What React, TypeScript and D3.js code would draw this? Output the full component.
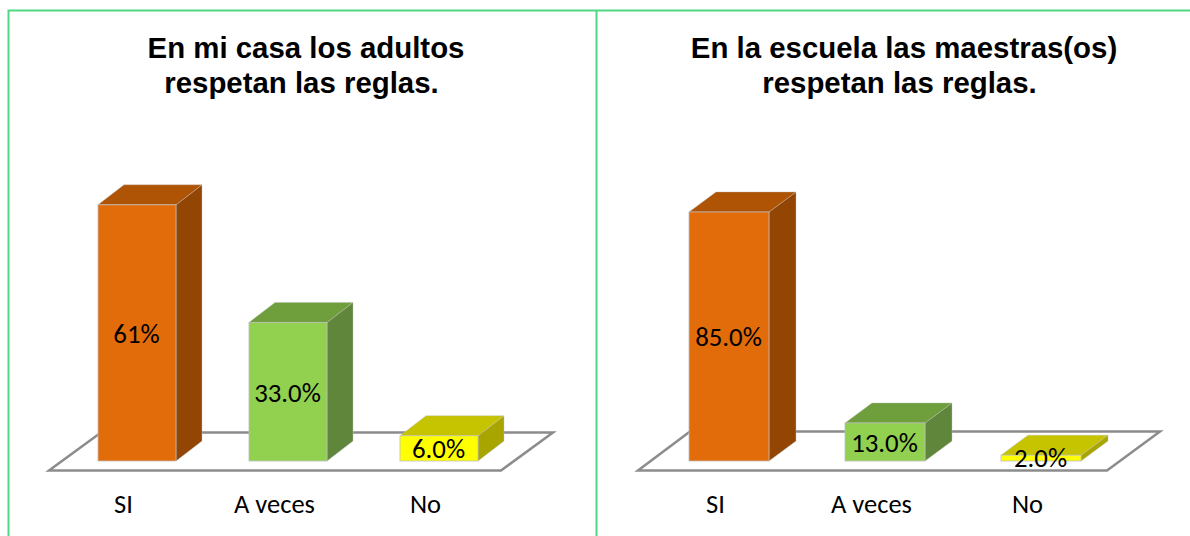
import React from "react";
import * as d3 from "d3";

const categories = ["SI", "A veces", "No"];
const valuesLeft = [61, 33, 6];
const valuesRight = [85, 13, 2];
const labelsLeft = ["61%", "33.0%", "6.0%"];
const labelsRight = ["85.0%", "13.0%", "2.0%"];
const titleLeft = ["En mi casa los adultos", "respetan las reglas."];
const titleRight = ["En la escuela las maestras(os)", "respetan las reglas."];
const faceFront = ["#E36C0A", "#92D050", "#FFFF00"];
const faceTop = ["#AF5305", "#6F9E3C", "#C6C300"];
const faceSide = ["#934504", "#5F863A", "#A8A500"];

const WIDTH = 1190;
const HEIGHT = 536;
const BASE_Y = 461;
const DY = 20;
const LABEL_FONT = "Carlito, Calibri, 'Open Sans', sans-serif";

type PanelProps = {
  values: number[];
  labels: string[];
  title: string[];
  titleX: number;
  barRange: [number, number];
  barWidth: number;
  depth: number;
  pxPerUnit: number;
  floor: { left: number; right: number; backLeft: number; backRight: number; backY: number };
  labelOffset: number;
  labelY: number[];
};

function Panel({ values, labels, title, titleX, barRange, barWidth, depth, pxPerUnit, floor, labelOffset, labelY }: PanelProps) {
  const x = d3.scalePoint<string>().domain(categories).range(barRange);
  const y = d3.scaleLinear().domain([0, 100]).range([BASE_Y, BASE_Y - 100 * pxPerUnit]);
  const line = d3.line();
  const floorPath = line([
    [floor.left, 470.5],
    [floor.right, 470.5],
    [floor.backRight, floor.backY],
    [floor.backLeft, floor.backY],
  ]) + "Z";
  return (
    <g>
      {title.map((t, i) => (
        <text key={i} x={titleX - (i === 1 ? 4.5 : 0)} y={58 + i * 35} textAnchor="middle" fontFamily="'Liberation Sans', Arial, sans-serif" fontWeight={700} fontSize={29.4} fill="#000">{t}</text>
      ))}
      <path d={floorPath} fill="#fff" stroke="#8C8C8C" strokeWidth={2.5} strokeLinejoin="miter" />
      {categories.map((c, i) => {
        const cx = x(c) as number;
        const l = cx - barWidth / 2;
        const r = cx + barWidth / 2;
        const top = y(values[i]);
        const topFace = line([[l, top], [r, top], [r + depth, top - DY], [l + depth, top - DY]]) + "Z";
        const sideFace = line([[r, top], [r + depth, top - DY], [r + depth, BASE_Y - DY], [r, BASE_Y]]) + "Z";
        return (
          <g key={c}>
            <path d={sideFace} fill={faceSide[i]} stroke="#BDBDBD" strokeOpacity={0.5} strokeWidth={0.8} />
            <path d={topFace} fill={faceTop[i]} stroke="#BDBDBD" strokeOpacity={0.5} strokeWidth={0.8} />
            <rect x={l} y={top} width={barWidth} height={BASE_Y - top} fill={faceFront[i]} stroke="#BDBDBD" strokeWidth={0.8} />
          </g>
        );
      })}
      {categories.map((c, i) => {
        const cx = x(c) as number;
        return (
          <g key={c}>
            <text x={cx - 0.5} y={labelY[i]} textAnchor="middle" dominantBaseline="central" fontFamily={LABEL_FONT} fontSize={26.8} fill="#000">{labels[i]}</text>
            <text x={cx - labelOffset} y={513} textAnchor="middle" fontFamily={LABEL_FONT} fontSize={26.5} fill="#000">{c}</text>
          </g>
        );
      })}
    </g>
  );
}

export default function App() {
  return (
    <svg width={WIDTH} height={HEIGHT} viewBox={`0 0 ${WIDTH} ${HEIGHT}`} style={{ position: "absolute", left: 0, top: 0, background: "#fff" }}>
      <path d={`M1190 10.5H8.5V536M596.5 10.5V536`} fill="none" stroke="#4FD884" strokeWidth={2} />
      <Panel
        values={valuesLeft}
        labels={labelsLeft}
        title={titleLeft}
        titleX={306}
        barRange={[137, 439]}
        barWidth={78}
        depth={26}
        pxPerUnit={4.2}
        floor={{ left: 49, right: 501, backLeft: 101, backRight: 553, backY: 432.5 }}
        labelOffset={13.5}
        labelY={[333.5, 392.5, 448.5]}
      />
      <Panel
        values={valuesRight}
        labels={labelsRight}
        title={titleRight}
        titleX={904}
        barRange={[729, 1041]}
        barWidth={80}
        depth={27}
        pxPerUnit={2.93}
        floor={{ left: 638, right: 1107, backLeft: 690, backRight: 1160, backY: 431.5 }}
        labelOffset={13.5}
        labelY={[336.5, 442.5, 457.5]}
      />
    </svg>
  );
}
